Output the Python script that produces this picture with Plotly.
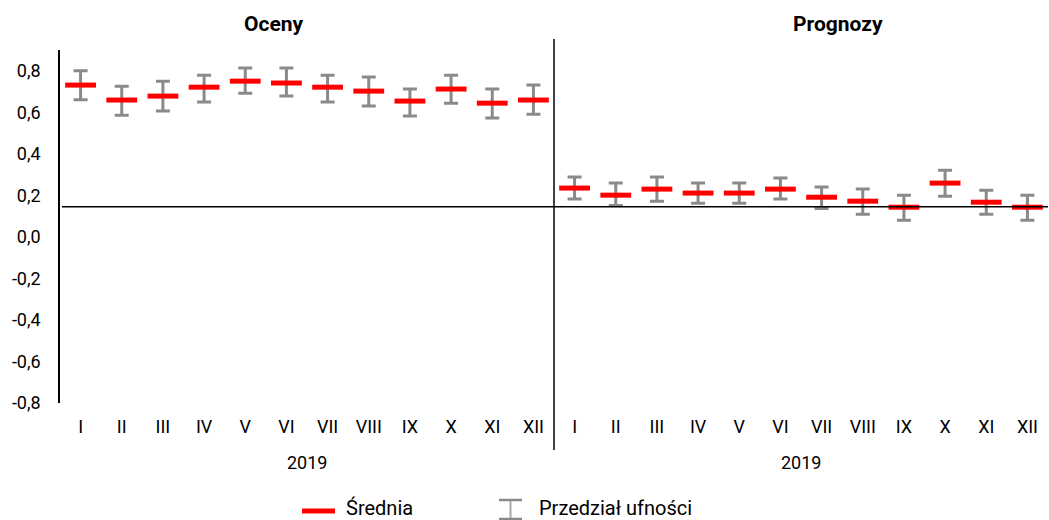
import plotly.graph_objects as go

months = ["I", "II", "III", "IV", "V", "VI", "VII", "VIII", "IX", "X", "XI", "XII"]
groups = ["Oceny", "Prognozy"]
year_label = "2019"

oceny_mean = [0.731, 0.659, 0.678, 0.721, 0.750, 0.741, 0.721, 0.702, 0.654, 0.712, 0.644, 0.659]
oceny_upper = [0.800, 0.726, 0.750, 0.779, 0.813, 0.813, 0.779, 0.770, 0.712, 0.779, 0.712, 0.731]
oceny_lower = [0.660, 0.586, 0.606, 0.649, 0.692, 0.678, 0.649, 0.630, 0.582, 0.644, 0.572, 0.591]

prognozy_mean = [0.235, 0.201, 0.230, 0.211, 0.211, 0.230, 0.191, 0.172, 0.143, 0.259, 0.167, 0.143]
prognozy_upper = [0.288, 0.259, 0.288, 0.259, 0.259, 0.283, 0.240, 0.230, 0.201, 0.321, 0.225, 0.201]
prognozy_lower = [0.182, 0.151, 0.172, 0.162, 0.162, 0.182, 0.137, 0.109, 0.080, 0.196, 0.109, 0.080]

ref_line = 0.145
y_ticks = [-0.8, -0.6, -0.4, -0.2, 0.0, 0.2, 0.4, 0.6, 0.8]

FONT = "Roboto"
W, H = 1049, 520
L, R, T, B = 60, 1, 50, 117
pw, ph = W - L - R, H - T - B


def px(x):
    return (x - L) / pw


def py(y):
    return (H - B - y) / ph


means = oceny_mean + prognozy_mean
uppers = oceny_upper + prognozy_upper
lowers = oceny_lower + prognozy_lower
xs = list(range(len(means)))
err_plus = [u - m for u, m in zip(uppers, means)]
err_minus = [m - l for m, l in zip(means, lowers)]

fig = go.Figure()
# confidence interval
fig.add_trace(go.Scatter(
    x=xs, y=means, mode="markers",
    marker=dict(size=1, color="rgba(0,0,0,0)"),
    error_y=dict(type="data", symmetric=False, array=err_plus, arrayminus=err_minus,
                 color="#8a8a8a", thickness=3, width=7),
    showlegend=False, hoverinfo="skip",
))
# mean
fig.add_trace(go.Scatter(
    x=xs, y=means, mode="markers",
    marker=dict(symbol="line-ew", size=22, line=dict(width=5, color="#ff0000")),
    showlegend=False,
))

shapes = [
    # horizontal reference line
    dict(type="line", xref="paper", yref="y", x0=px(62), x1=1.0, y0=ref_line, y1=ref_line,
         line=dict(color="black", width=1.5)),
    # group divider
    dict(type="line", xref="x", yref="paper", x0=11.5, x1=11.5, y0=py(450), y1=py(39),
         line=dict(color="black", width=1.5)),
    # legend: mean
    dict(type="line", xref="paper", yref="paper", x0=px(302), x1=px(335), y0=py(511), y1=py(511),
         line=dict(color="#ff0000", width=5)),
    # legend: confidence interval I-beam
    dict(type="line", xref="paper", yref="paper", x0=px(510.5), x1=px(510.5), y0=py(500), y1=py(520),
         line=dict(color="#a8a8a8", width=2)),
    dict(type="line", xref="paper", yref="paper", x0=px(499), x1=px(522), y0=py(500), y1=py(500),
         line=dict(color="#8a8a8a", width=2.5)),
    dict(type="line", xref="paper", yref="paper", x0=px(499), x1=px(522), y0=py(519), y1=py(519),
         line=dict(color="#8a8a8a", width=2.5)),
]

annotations = [
    dict(text="<b>%s</b>" % groups[0], xref="paper", yref="paper", x=px(274), y=py(24),
         xanchor="center", yanchor="middle",
         showarrow=False, font=dict(family=FONT, size=21, color="black")),
    dict(text="<b>%s</b>" % groups[1], xref="paper", yref="paper", x=px(838), y=py(24),
         xanchor="center", yanchor="middle",
         showarrow=False, font=dict(family=FONT, size=21, color="black")),
    dict(text=year_label, xref="x", yref="paper", x=5.5, y=py(462),
         xanchor="center", yanchor="middle",
         showarrow=False, font=dict(family=FONT, size=18, color="black")),
    dict(text=year_label, xref="x", yref="paper", x=17.5, y=py(462),
         xanchor="center", yanchor="middle",
         showarrow=False, font=dict(family=FONT, size=18, color="black")),
    dict(text="Średnia", xref="paper", yref="paper", x=px(344), y=py(508),
         xanchor="left", yanchor="middle",
         showarrow=False, font=dict(family=FONT, size=20, color="black")),
    dict(text="Przedział ufności", xref="paper", yref="paper", x=px(537), y=py(508),
         xanchor="left", yanchor="middle",
         showarrow=False, font=dict(family=FONT, size=20, color="black")),
]

fig.update_layout(
    width=W, height=H,
    margin=dict(l=L, r=R, t=T, b=B),
    paper_bgcolor="white", plot_bgcolor="white",
    font=dict(family=FONT, size=18, color="black"),
    shapes=shapes, annotations=annotations,
    showlegend=False,
)
fig.update_xaxes(
    range=[-0.5, len(means) - 0.5],
    tickmode="array", tickvals=xs, ticktext=months + months,
    ticks="outside", ticklen=7, tickcolor="rgba(0,0,0,0)",
    showgrid=False, zeroline=False, showline=False,
    tickfont=dict(family=FONT, size=18, color="black"),
)
fig.update_yaxes(
    range=[-0.8, 0.9],
    tickmode="array", tickvals=y_ticks,
    ticktext=[("%.1f" % v).replace(".", ",").replace("-0,0", "0,0") for v in y_ticks],
    ticks="outside", ticklen=14, tickcolor="rgba(0,0,0,0)",
    showgrid=False, zeroline=False, showline=True, linecolor="black", linewidth=1.5,
    tickfont=dict(family=FONT, size=18, color="black"),
)

fig.write_html(
    "out.html",
    config={"displayModeBar": False},
    post_script="document.body.style.margin='0';document.body.style.overflow='hidden';",
)
